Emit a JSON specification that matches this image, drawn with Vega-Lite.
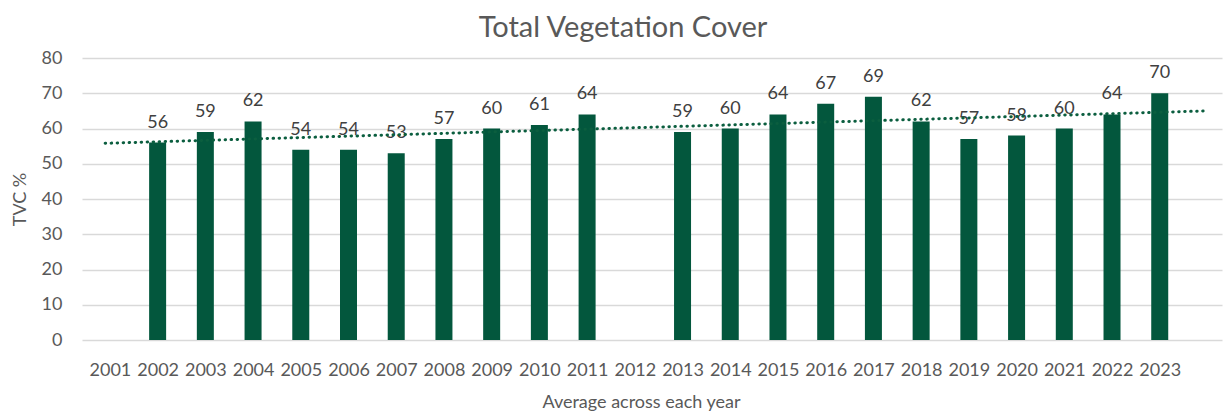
{
  "$schema": "https://vega.github.io/schema/vega-lite/v6.json",
  "autosize": {"type": "none"},
  "padding": {"left": 82, "top": 58, "right": 1, "bottom": 74},
  "width": 1140,
  "height": 282,
  "background": "white",
  "title": {
    "text": "Total Vegetation Cover",
    "font": "Lato",
    "fontSize": 29,
    "fontWeight": "normal",
    "color": "#595959",
    "anchor": "middle",
    "dx": -29,
    "offset": 6
  },
  "datasets": {
    "tvc": [
      {"year": 2002, "tvc": 56},
      {"year": 2003, "tvc": 59},
      {"year": 2004, "tvc": 62},
      {"year": 2005, "tvc": 54},
      {"year": 2006, "tvc": 54},
      {"year": 2007, "tvc": 53},
      {"year": 2008, "tvc": 57},
      {"year": 2009, "tvc": 60},
      {"year": 2010, "tvc": 61},
      {"year": 2011, "tvc": 64},
      {"year": 2013, "tvc": 59},
      {"year": 2014, "tvc": 60},
      {"year": 2015, "tvc": 64},
      {"year": 2016, "tvc": 67},
      {"year": 2017, "tvc": 69},
      {"year": 2018, "tvc": 62},
      {"year": 2019, "tvc": 57},
      {"year": 2020, "tvc": 58},
      {"year": 2021, "tvc": 60},
      {"year": 2022, "tvc": 64},
      {"year": 2023, "tvc": 70}
    ],
    "trend": [
      {"year": 2000.9, "tvc": 55.8},
      {"year": 2024.0, "tvc": 65.0}
    ]
  },
  "config": {
    "view": {"stroke": null},
    "axis": {
      "labelFont": "Lato",
      "titleFont": "Lato",
      "labelColor": "#595959",
      "titleColor": "#595959",
      "labelFontSize": 18,
      "titleFontSize": 18,
      "titleFontWeight": "normal",
      "labelOverlap": false
    }
  },
  "encoding": {
    "x": {
      "field": "year",
      "type": "quantitative",
      "scale": {"domain": [2000.52, 2024.2], "nice": false, "zero": false},
      "axis": {
        "values": [2001, 2002, 2003, 2004, 2005, 2006, 2007, 2008, 2009, 2010, 2011, 2012, 2013, 2014, 2015, 2016, 2017, 2018, 2019, 2020, 2021, 2022, 2023],
        "format": "d",
        "grid": false,
        "ticks": false,
        "domain": false,
        "labelPadding": 21,
        "labelFlush": false,
        "labelOverlap": false,
        "title": "Average across each year",
        "titleX": 559,
        "titlePadding": 14
      }
    },
    "y": {
      "field": "tvc",
      "type": "quantitative",
      "scale": {"domain": [0, 80], "nice": false},
      "axis": {
        "values": [0, 10, 20, 30, 40, 50, 60, 70, 80],
        "tickCount": 9,
        "grid": true,
        "gridColor": "#d9d9d9",
        "gridWidth": 1.5,
        "ticks": false,
        "domain": false,
        "labelPadding": 20,
        "labelOverlap": false,
        "title": "TVC %",
        "titlePadding": 12
      }
    }
  },
  "layer": [
    {
      "data": {"name": "tvc"},
      "mark": {"type": "bar", "size": 17, "color": "#03573D"}
    },
    {
      "data": {"name": "tvc"},
      "mark": {"type": "text", "baseline": "bottom", "dy": -11, "font": "Lato", "fontSize": 18, "color": "#404040"},
      "encoding": {
        "text": {"field": "tvc", "type": "quantitative"}
      }
    },
    {
      "data": {"name": "trend"},
      "mark": {"type": "line", "color": "#0B5E3F", "strokeWidth": 3, "strokeDash": [0.5, 5.5], "strokeCap": "round"}
    }
  ]
}
